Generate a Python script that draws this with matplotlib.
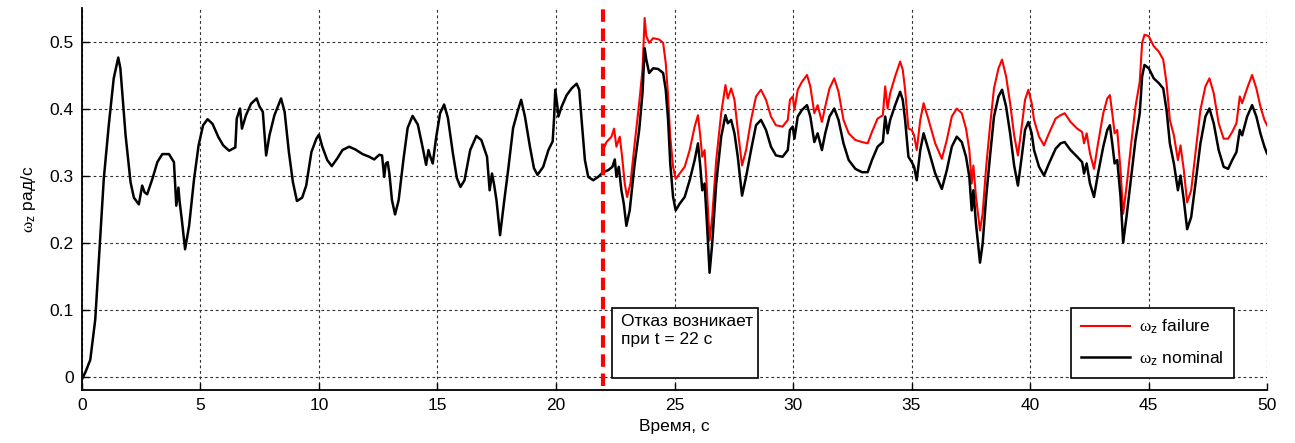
import numpy
import matplotlib
matplotlib.use('Agg')
import matplotlib.pyplot as plt
from matplotlib.patches import Rectangle

# time, s and omega_z, rad/s
t_nominal = [0.0, 0.15, 0.35, 0.56, 0.73, 0.92, 1.13, 1.34, 1.53, 1.62, 1.84, 2.05, 2.19, 2.40, 2.54, 2.64, 2.75, 2.97,
             3.18, 3.39, 3.67, 3.88, 3.98, 4.07, 4.12, 4.21, 4.35, 4.52, 4.73, 4.92, 5.11, 5.30, 5.51, 5.76, 5.96,
             6.21, 6.47, 6.53, 6.67, 6.75, 6.92, 7.13, 7.37, 7.49, 7.63, 7.77, 7.91, 8.12, 8.40, 8.55, 8.73, 8.90,
             9.07, 9.29, 9.46, 9.68, 9.89, 10.0, 10.14, 10.35, 10.54, 10.78, 10.99, 11.27, 11.53, 11.84, 12.12,
             12.33, 12.54, 12.66, 12.75, 12.82, 12.90, 12.97, 13.08, 13.21, 13.36, 13.56, 13.74, 13.95, 14.17,
             14.35, 14.52, 14.62, 14.70, 14.80, 14.94, 15.11, 15.28, 15.44, 15.65, 15.82, 15.97, 16.14, 16.38,
             16.64, 16.85, 17.09, 17.20, 17.30, 17.39, 17.49, 17.64, 17.80, 17.98, 18.19, 18.40, 18.53, 18.69,
             18.90, 19.07, 19.22, 19.46, 19.68, 19.86, 19.92, 19.97, 20.06, 20.10, 20.24, 20.45, 20.66, 20.87,
             20.98, 21.08, 21.22, 21.36, 21.57, 21.78, 21.99, 22.20, 22.38, 22.48, 22.55, 22.65, 22.76, 22.86,
             22.97, 23.11, 23.32, 23.51, 23.65, 23.74, 23.81, 23.93, 24.10, 24.31, 24.52, 24.63, 24.73, 24.82,
             24.94, 25.05, 25.22, 25.43, 25.64, 25.85, 25.99, 26.09, 26.17, 26.27, 26.37, 26.48, 26.59, 26.76,
             26.97, 27.15, 27.25, 27.39, 27.53, 27.67, 27.85, 28.02, 28.23, 28.44, 28.65, 28.86, 29.07, 29.28,
             29.56, 29.78, 29.87, 29.99, 30.06, 30.20, 30.38, 30.59, 30.73, 30.90, 31.04, 31.22, 31.36, 31.54,
             31.74, 31.92, 32.13, 32.35, 32.63, 32.91, 33.15, 33.33, 33.57, 33.79, 33.89, 33.99, 34.10, 34.31,
             34.52, 34.63, 34.73, 34.87, 35.01, 35.11, 35.22, 35.37, 35.51, 35.72, 36.00, 36.28, 36.49, 36.70,
             36.91, 37.12, 37.30, 37.44, 37.54, 37.61, 37.72, 37.89, 38.00, 38.15, 38.31, 38.48, 38.67, 38.82,
             38.99, 39.16, 39.33, 39.49, 39.65, 39.79, 39.93, 40.07, 40.17, 40.38, 40.59, 40.80, 41.08, 41.29,
             41.46, 41.71, 41.99, 42.20, 42.28, 42.39, 42.53, 42.70, 42.87, 43.09, 43.26, 43.37, 43.47, 43.57,
             43.68, 43.82, 43.93, 44.07, 44.27, 44.45, 44.63, 44.73, 44.83, 45.01, 45.22, 45.43, 45.62, 45.76,
             45.90, 46.07, 46.24, 46.35, 46.49, 46.63, 46.80, 46.98, 47.19, 47.40, 47.57, 47.75, 47.96, 48.17,
             48.36, 48.53, 48.71, 48.85, 48.95, 49.16, 49.37, 49.55, 49.72, 49.89, 50.0]
w_nominal = [-0.003, 0.008, 0.026, 0.086, 0.186, 0.296, 0.376, 0.446, 0.477, 0.461, 0.361, 0.291, 0.268, 0.258, 0.286,
             0.276, 0.273, 0.296, 0.321, 0.333, 0.333, 0.321, 0.256, 0.283, 0.262, 0.236, 0.191, 0.226, 0.296,
             0.346, 0.376, 0.385, 0.378, 0.358, 0.346, 0.338, 0.343, 0.386, 0.401, 0.371, 0.391, 0.408, 0.416,
             0.404, 0.396, 0.331, 0.361, 0.391, 0.416, 0.396, 0.336, 0.291, 0.263, 0.268, 0.286, 0.336, 0.356,
             0.362, 0.344, 0.324, 0.315, 0.327, 0.339, 0.344, 0.340, 0.333, 0.329, 0.325, 0.332, 0.331, 0.299,
             0.319, 0.321, 0.304, 0.264, 0.243, 0.264, 0.324, 0.372, 0.390, 0.377, 0.347, 0.317, 0.339, 0.329,
             0.319, 0.357, 0.394, 0.407, 0.387, 0.334, 0.297, 0.284, 0.294, 0.339, 0.360, 0.354, 0.329, 0.279,
             0.304, 0.287, 0.264, 0.212, 0.259, 0.309, 0.372, 0.399, 0.414, 0.389, 0.344, 0.312, 0.302, 0.314,
             0.339, 0.352, 0.387, 0.429, 0.404, 0.389, 0.404, 0.421, 0.431, 0.438, 0.429, 0.384, 0.324, 0.299,
             0.294, 0.299, 0.306, 0.309, 0.314, 0.325, 0.299, 0.314, 0.279, 0.259, 0.226, 0.249, 0.319, 0.369,
             0.424, 0.491, 0.474, 0.454, 0.461, 0.460, 0.454, 0.429, 0.384, 0.319, 0.269, 0.249, 0.259, 0.269,
             0.294, 0.324, 0.349, 0.314, 0.279, 0.289, 0.229, 0.156, 0.199, 0.289, 0.359, 0.391, 0.379, 0.384,
             0.364, 0.329, 0.271, 0.299, 0.339, 0.376, 0.384, 0.369, 0.344, 0.331, 0.329, 0.339, 0.369, 0.374,
             0.356, 0.389, 0.399, 0.406, 0.389, 0.351, 0.364, 0.339, 0.364, 0.389, 0.401, 0.384, 0.349, 0.324,
             0.311, 0.306, 0.306, 0.324, 0.344, 0.351, 0.389, 0.364, 0.384, 0.406, 0.426, 0.414, 0.384, 0.329,
             0.321, 0.314, 0.294, 0.339, 0.364, 0.339, 0.304, 0.281, 0.309, 0.344, 0.359, 0.351, 0.329, 0.299,
             0.249, 0.279, 0.229, 0.171, 0.199, 0.269, 0.329, 0.389, 0.419, 0.429, 0.404, 0.364, 0.316, 0.286,
             0.329, 0.369, 0.381, 0.364, 0.339, 0.314, 0.301, 0.319, 0.341, 0.349, 0.351, 0.339, 0.329, 0.321,
             0.304, 0.319, 0.289, 0.269, 0.304, 0.344, 0.369, 0.376, 0.349, 0.319, 0.324, 0.269, 0.201, 0.239,
             0.299, 0.354, 0.394, 0.449, 0.466, 0.461, 0.446, 0.439, 0.431, 0.399, 0.349, 0.319, 0.279, 0.301,
             0.264, 0.221, 0.239, 0.289, 0.349, 0.389, 0.401, 0.379, 0.339, 0.314, 0.311, 0.324, 0.336, 0.369,
             0.361, 0.389, 0.406, 0.389, 0.364, 0.344, 0.334]

t_failure = [22.00, 22.13, 22.34, 22.45, 22.55, 22.69, 22.79, 22.90, 23.00, 23.14, 23.32, 23.51, 23.65, 23.74, 23.81,
             23.93, 24.10, 24.35, 24.52, 24.63, 24.73, 24.82, 24.94, 25.05, 25.22, 25.43, 25.64, 25.85, 25.99,
             26.09, 26.17, 26.27, 26.37, 26.48, 26.59, 26.76, 26.97, 27.15, 27.25, 27.39, 27.53, 27.67, 27.85,
             28.02, 28.23, 28.44, 28.65, 28.86, 29.07, 29.28, 29.56, 29.78, 29.87, 29.99, 30.06, 30.20, 30.38,
             30.59, 30.73, 30.90, 31.04, 31.22, 31.36, 31.54, 31.74, 31.92, 32.13, 32.35, 32.63, 32.91, 33.15,
             33.33, 33.57, 33.79, 33.89, 33.99, 34.10, 34.31, 34.52, 34.63, 34.73, 34.87, 35.01, 35.11, 35.22,
             35.37, 35.51, 35.72, 36.00, 36.28, 36.49, 36.70, 36.91, 37.12, 37.30, 37.44, 37.54, 37.61, 37.72,
             37.89, 38.00, 38.15, 38.31, 38.48, 38.67, 38.82, 38.99, 39.16, 39.33, 39.49, 39.65, 39.79, 39.93,
             40.07, 40.17, 40.38, 40.59, 40.80, 41.08, 41.29, 41.46, 41.71, 41.99, 42.20, 42.28, 42.39, 42.53,
             42.70, 42.87, 43.09, 43.26, 43.37, 43.47, 43.57, 43.68, 43.82, 43.93, 44.07, 44.27, 44.45, 44.63,
             44.73, 44.83, 45.01, 45.22, 45.43, 45.62, 45.76, 45.90, 46.07, 46.24, 46.35, 46.49, 46.63, 46.80,
             46.98, 47.19, 47.40, 47.57, 47.75, 47.96, 48.17, 48.36, 48.53, 48.71, 48.85, 48.95, 49.16, 49.37,
             49.55, 49.72, 49.89, 50.0]
w_failure = [0.340, 0.351, 0.359, 0.371, 0.344, 0.359, 0.329, 0.289, 0.269, 0.289, 0.349, 0.409, 0.459, 0.536, 0.509,
             0.499, 0.506, 0.504, 0.499, 0.469, 0.419, 0.359, 0.314, 0.296, 0.304, 0.314, 0.339, 0.374, 0.391,
             0.359, 0.329, 0.339, 0.279, 0.204, 0.239, 0.324, 0.394, 0.436, 0.416, 0.431, 0.414, 0.369, 0.316,
             0.339, 0.384, 0.419, 0.429, 0.414, 0.389, 0.376, 0.374, 0.384, 0.414, 0.419, 0.399, 0.429, 0.441,
             0.451, 0.434, 0.394, 0.406, 0.381, 0.404, 0.431, 0.446, 0.426, 0.384, 0.364, 0.354, 0.351, 0.349,
             0.366, 0.386, 0.391, 0.434, 0.401, 0.424, 0.449, 0.471, 0.459, 0.429, 0.371, 0.369, 0.361, 0.339,
             0.384, 0.409, 0.384, 0.349, 0.326, 0.354, 0.389, 0.401, 0.394, 0.371, 0.339, 0.289, 0.316, 0.269,
             0.219, 0.244, 0.314, 0.374, 0.431, 0.461, 0.474, 0.449, 0.409, 0.361, 0.331, 0.374, 0.414, 0.429,
             0.409, 0.384, 0.359, 0.346, 0.364, 0.386, 0.391, 0.394, 0.381, 0.371, 0.366, 0.349, 0.364, 0.334,
             0.311, 0.349, 0.394, 0.416, 0.421, 0.394, 0.364, 0.369, 0.309, 0.244, 0.284, 0.349, 0.404, 0.441,
             0.499, 0.511, 0.509, 0.494, 0.486, 0.474, 0.439, 0.384, 0.361, 0.324, 0.346, 0.309, 0.261, 0.279,
             0.334, 0.399, 0.434, 0.446, 0.424, 0.379, 0.356, 0.356, 0.366, 0.379, 0.419, 0.409, 0.431, 0.451,
             0.431, 0.404, 0.384, 0.376]

failure_time = 22
x_ticks = [0, 5, 10, 15, 20, 25, 30, 35, 40, 45, 50]
y_ticks = [0, 0.1, 0.2, 0.3, 0.4, 0.5]

plt.rcParams['font.family'] = ['Liberation Sans', 'DejaVu Sans']
plt.rcParams['mathtext.fontset'] = 'custom'
plt.rcParams['mathtext.rm'] = 'Liberation Serif'
plt.rcParams['mathtext.sf'] = 'Liberation Sans'
plt.rcParams['mathtext.it'] = 'Liberation Serif:italic'

omega = r'$\mathrm{\omega}_{\mathsf{z}}$'

fig = plt.figure(figsize=(12.95, 4.43), dpi=100)
ax = fig.add_axes([0.0633, 0.1196, 0.9151, 0.8624])

ax.plot(t_failure, w_failure, color='#ff0000', lw=1.5, label=omega + ' failure', zorder=3)
ax.plot(t_nominal, w_nominal, color='#000000', lw=1.8, label=omega + ' nominal', zorder=3)
ax.axvline(failure_time, ymin=0.01, ymax=1, color='#ff0000', lw=3, dashes=(3, 1.6), zorder=4)

ax.set_xlim(0, 50)
ax.set_ylim(-0.019, 0.551)
ax.set_xticks(x_ticks)
ax.set_yticks(y_ticks)
ax.set_yticklabels(['0', '0.1', '0.2', '0.3', '0.4', '0.5'])
ax.grid(True, color='#303030', lw=0.8, linestyle=(0, (2.5, 2.5)))
ax.set_axisbelow(True)
ax.spines['top'].set_visible(False)
ax.spines['right'].set_visible(False)
ax.spines['left'].set_linewidth(1.3)
ax.spines['bottom'].set_linewidth(1.3)
ax.tick_params(direction='in', length=5, width=1, labelsize=12.5, pad=6)

ax.set_xlabel('Время, с', fontsize=12.5, labelpad=4)
ax.set_ylabel(omega + ' рад/с', fontsize=12.5, labelpad=8)

# note box about the failure
ax.add_patch(Rectangle((22.36, -0.001), 6.16, 0.1045, facecolor='white', edgecolor='black', lw=1.2, zorder=5))
ax.text(22.75, 0.094, 'Отказ возникает\nпри t = 22 с', fontsize=12.5, va='top', ha='left', zorder=6,
        linespacing=1.25)

leg = ax.legend(loc='lower right', bbox_to_anchor=(0.9725, 0.031), borderaxespad=0, fontsize=12.5,
                fancybox=False, framealpha=1, edgecolor='black', handlelength=2.8, handletextpad=0.55,
                borderpad=0.6, labelspacing=0.75)
leg.get_frame().set_linewidth(1.2)
leg.set_zorder(6)

fig.savefig('out.png', dpi=100)
